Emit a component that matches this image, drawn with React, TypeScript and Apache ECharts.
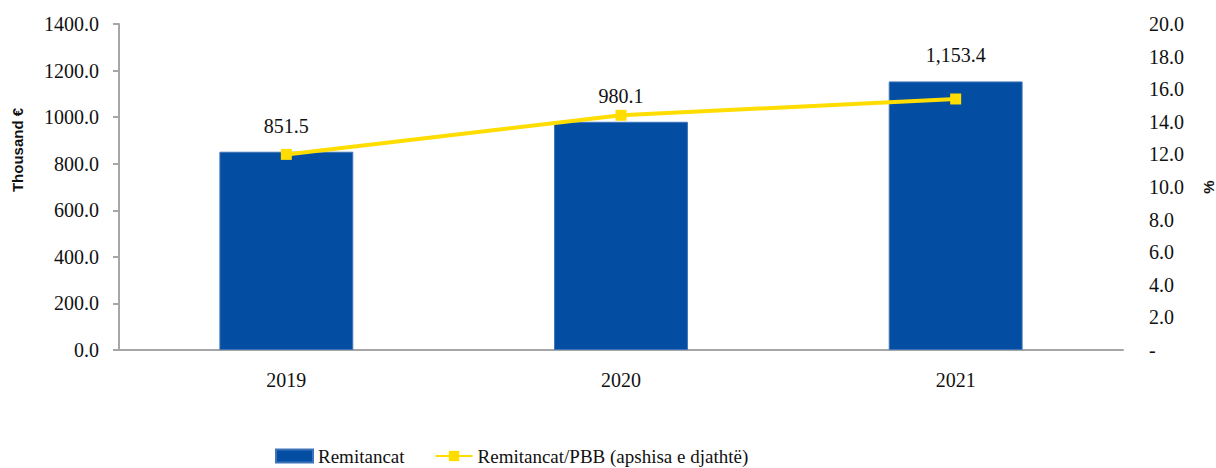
import React, { useEffect, useRef } from "react";
import * as echarts from "echarts";

const categories = ["2019", "2020", "2021"];
const remitancat = [851.5, 980.1, 1153.4];
const remitancatPbb = [12.0, 14.4, 15.4];
const leftAxisName = "Thousand €";
const rightAxisName = "%";
const seriesNames = ["Remitancat", "Remitancat/PBB (apshisa e djathtë)"];

const SERIF = "Liberation Serif, DejaVu Serif, serif";

export default function App() {
  const ref = useRef<HTMLDivElement>(null);
  useEffect(() => {
    if (!ref.current) return;
    const chart = echarts.init(ref.current, undefined, { renderer: "svg" });
    chart.setOption({
      animation: false,
      textStyle: { fontFamily: SERIF },
      grid: { left: 119, right: 93, top: 24, bottom: 118, containLabel: false },
      legend: {
        top: 445,
        left: 275,
        itemWidth: 37,
        itemHeight: 13,
        itemGap: 30,
        padding: 0,
        textStyle: { fontFamily: SERIF, fontSize: 19, color: "#111", lineHeight: 22 },
        data: [
          { name: seriesNames[0], icon: "rect" },
          { name: seriesNames[1] },
        ],
      },
      xAxis: {
        type: "category",
        data: categories,
        axisLine: { lineStyle: { color: "#a6a6a6", width: 2 } },
        axisTick: { show: false },
        axisLabel: { fontFamily: SERIF, fontSize: 20, color: "#111", margin: 20 },
      },
      yAxis: [
        {
          type: "value",
          min: 0,
          max: 1400,
          interval: 200,
          splitLine: { show: false },
          axisLine: { show: true, lineStyle: { color: "#a6a6a6", width: 2 } },
          axisTick: { show: true, length: 6, lineStyle: { color: "#a6a6a6", width: 2 } },
          axisLabel: {
            fontFamily: SERIF,
            fontSize: 20,
            color: "#111",
            margin: 20,
            formatter: (v: number) => v.toFixed(1),
          },
        },
        {
          type: "value",
          min: 0,
          max: 20,
          interval: 2,
          position: "right",
          splitLine: { show: false },
          axisLine: { show: false },
          axisTick: { show: false },
          axisLabel: {
            fontFamily: SERIF,
            fontSize: 20,
            color: "#111",
            margin: 26,
            align: "left",
            formatter: (v: number) => (v === 0 ? "-" : v.toFixed(1)),
          },
        },
      ],
      graphic: [
        {
          type: "text",
          x: 17,
          y: 150,
          rotation: Math.PI / 2,
          style: {
            text: leftAxisName,
            font: "bold 15px Liberation Sans, Arial, sans-serif",
            fill: "#111",
            align: "center",
            verticalAlign: "middle",
          },
        },
        {
          type: "text",
          x: 1208,
          y: 187,
          rotation: Math.PI / 2,
          style: {
            text: rightAxisName,
            font: "bold 15px Liberation Sans, Arial, sans-serif",
            fill: "#111",
            align: "center",
            verticalAlign: "middle",
          },
        },
      ],
      series: [
        {
          name: seriesNames[0],
          type: "bar",
          data: remitancat,
          barWidth: "40%",
          itemStyle: { color: "#034ea2", borderColor: "#3f74b8", borderWidth: 1 },
          label: {
            show: true,
            position: "top",
            distance: 16,
            fontFamily: SERIF,
            fontSize: 20,
            color: "#111",
            formatter: (p: any) =>
              p.value.toLocaleString("en-US", { minimumFractionDigits: 1, maximumFractionDigits: 1 }),
          },
          z: 1,
        },
        {
          name: seriesNames[1],
          type: "line",
          yAxisIndex: 1,
          data: remitancatPbb,
          symbol: "rect",
          symbolSize: 11,
          lineStyle: { color: "#ffdd00", width: 4 },
          itemStyle: { color: "#ffdd00" },
          z: 3,
        },
      ],
    });
    return () => chart.dispose();
  }, []);
  return (
    <div
      ref={ref}
      style={{ position: "absolute", left: 0, top: 0, width: 1216, height: 468 }}
    />
  );
}
